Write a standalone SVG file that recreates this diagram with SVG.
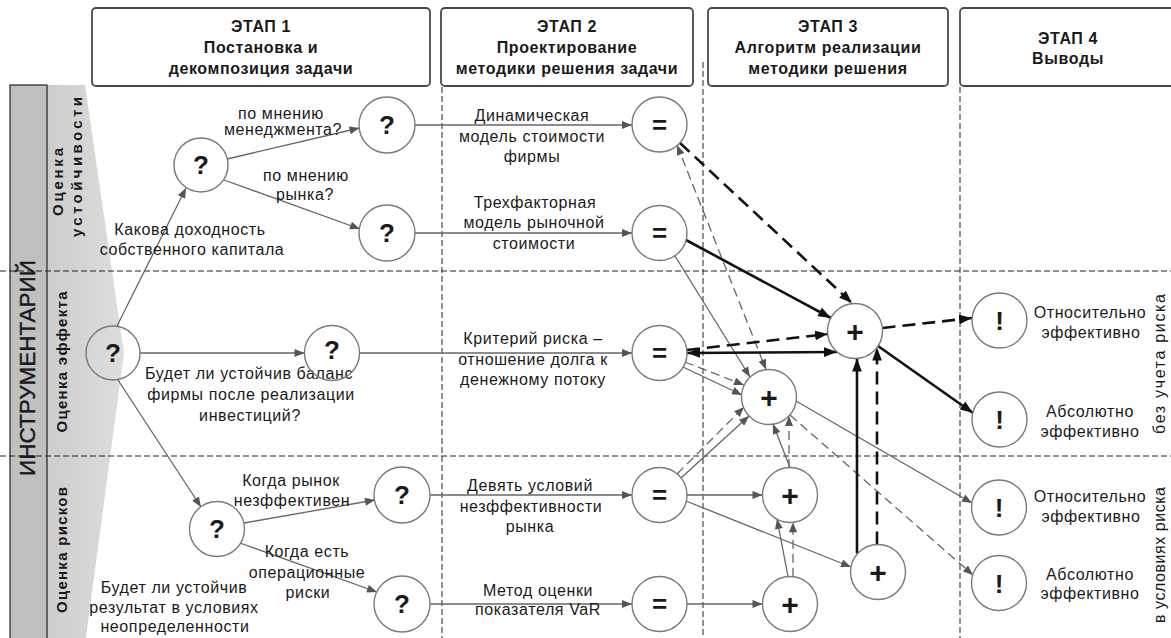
<svg xmlns="http://www.w3.org/2000/svg" width="1171" height="638" viewBox="0 0 1171 638">
<defs>
<style>
text{font-family:"Liberation Sans",Arial,sans-serif;fill:#1a1a1a}
.hdr{font-size:16px;font-weight:bold;letter-spacing:0.6px;text-anchor:middle}
.lbl{font-size:16px;letter-spacing:0.6px;text-anchor:middle}
.lane{font-size:15px;font-weight:bold;text-anchor:middle}
.side{font-size:16px;text-anchor:middle}
.box{fill:#fff;stroke:#4a4a4a;stroke-width:1.8}
.div{stroke:#222;stroke-width:1;stroke-dasharray:6 3;fill:none}
.node circle{fill:#fff;stroke:#7a7a7a;stroke-width:1.4}
.sym{font-size:26px;font-weight:bold;text-anchor:middle}
.plus{font-size:30px;font-weight:bold;text-anchor:middle}
.thin{stroke:#666;stroke-width:1.3;fill:none;marker-end:url(#ag)}
.thind{stroke:#666;stroke-width:1.3;fill:none;stroke-dasharray:9 5;marker-end:url(#ag)}
.heavy{stroke:#111;stroke-width:2.6;fill:none;marker-end:url(#ab)}
.heavyd{stroke:#111;stroke-width:2.6;fill:none;stroke-dasharray:13 7;marker-end:url(#ab)}
</style>
<marker id="ag" viewBox="0 0 10 8" refX="10" refY="4" markerWidth="11" markerHeight="8" markerUnits="userSpaceOnUse" orient="auto-start-reverse"><path d="M0,0 L10,4 L0,8 z" fill="#555"/></marker>
<marker id="ab" viewBox="0 0 12 9" refX="12" refY="4.5" markerWidth="13" markerHeight="10" markerUnits="userSpaceOnUse" orient="auto-start-reverse"><path d="M0,0 L12,4.5 L0,9 z" fill="#111"/></marker>
<linearGradient id="wg" x1="0" y1="0" x2="1" y2="0"><stop offset="0" stop-color="#cdcdcd"/><stop offset="1" stop-color="#dedede"/></linearGradient>
</defs>
<rect width="1171" height="638" fill="#fff"/>

<g id="sidebar">
<polygon points="47,85 85,85 124,353 85,645 47,645" fill="url(#wg)"/>
<rect x="10" y="85" width="37" height="560" fill="#c0c0c0" stroke="#222" stroke-width="1.2"/>
</g>

<g id="dividers">
<line class="div" x1="0" y1="271" x2="1171" y2="271"/>
<line class="div" x1="0" y1="456" x2="1171" y2="456"/>
<line class="div" x1="442" y1="87" x2="442" y2="638"/>
<line class="div" x1="703" y1="62" x2="703" y2="638"/>
<line class="div" x1="960" y1="87" x2="960" y2="638"/>
</g>

<g id="sidebar-text">
<text transform="translate(35,368) rotate(-90)" style="font-size:22.5px;text-anchor:middle;stroke:#1a1a1a;stroke-width:0.4">ИНСТРУМЕНТАРИЙ</text>
<text class="lane" transform="translate(63,182) rotate(-90)" textLength="68">Оценка</text>
<text class="lane" transform="translate(82,167) rotate(-90)" textLength="140">устойчивости</text>
<text class="lane" transform="translate(67,362) rotate(-90)" textLength="141">Оценка эффекта</text>
<text class="lane" transform="translate(67,550) rotate(-90)" textLength="126">Оценка рисков</text>
<text class="side" transform="translate(1165,364) rotate(-90)" textLength="140">без учета риска</text>
<text class="side" transform="translate(1165,555) rotate(-90)" textLength="136">в условиях риска</text>
</g>

<g id="stage1">
<rect class="box" x="92" y="8" width="338" height="78" rx="4"/>
<text class="hdr" x="261" y="32">ЭТАП 1</text>
<text class="hdr" x="261" y="53">Постановка и</text>
<text class="hdr" x="261" y="74">декомпозиция задачи</text>
</g>
<g id="stage2">
<rect class="box" x="441" y="8" width="252" height="78" rx="4"/>
<text class="hdr" x="567" y="32">ЭТАП 2</text>
<text class="hdr" x="567" y="53">Проектирование</text>
<text class="hdr" x="567" y="74">методики решения задачи</text>
</g>
<g id="stage3">
<rect class="box" x="708" y="8" width="240" height="78" rx="4"/>
<text class="hdr" x="828" y="32">ЭТАП 3</text>
<text class="hdr" x="828" y="53">Алгоритм реализации</text>
<text class="hdr" x="828" y="74">методики решения</text>
</g>
<g id="stage4">
<rect class="box" x="960" y="8" width="218" height="78" rx="4"/>
<text class="hdr" x="1068" y="44">ЭТАП 4</text>
<text class="hdr" x="1068" y="64">Выводы</text>
</g>

<g id="connectors">
<line class="thin" x1="117" y1="326" x2="186" y2="188"/>
<line class="thin" x1="118" y1="380" x2="201" y2="507"/>
<line class="thin" x1="140" y1="353" x2="304.5" y2="353"/>
<line class="thin" x1="227" y1="159" x2="359.5" y2="128"/>
<line class="thin" x1="224" y1="180" x2="360" y2="229"/>
<line class="thin" x1="415" y1="125" x2="632" y2="125"/>
<line class="thin" x1="415" y1="233" x2="632" y2="233"/>
<line class="thin" x1="359.5" y1="353" x2="632" y2="353"/>
<line class="thin" x1="244" y1="523" x2="375" y2="500"/>
<line class="thin" x1="240" y1="543" x2="377" y2="592"/>
<line class="thin" x1="430" y1="495" x2="632" y2="495"/>
<line class="thin" x1="430" y1="604" x2="632" y2="604"/>

<line class="heavyd" x1="680" y1="143" x2="852" y2="303"/>
<line class="thind" x1="677" y1="145" x2="766" y2="369.5" style="marker-start:url(#ag)"/>
<line class="heavy" x1="686" y1="240" x2="831" y2="318"/>
<line class="thin" x1="675" y1="256" x2="750" y2="377"/>
<line class="heavy" x1="687" y1="353" x2="837" y2="352" style="marker-start:url(#ab)"/>
<line class="heavyd" x1="687" y1="350" x2="828" y2="334"/>
<line class="thind" x1="685" y1="362" x2="744" y2="385"/>
<line class="thin" x1="683" y1="367" x2="742" y2="395"/>
<line class="thin" x1="681" y1="478" x2="749" y2="416"/>
<line class="thind" x1="677" y1="474" x2="744" y2="407"/>
<line class="thin" x1="687" y1="495" x2="762.5" y2="495"/>
<line class="thin" x1="686" y1="501" x2="851" y2="567"/>
<line class="thin" x1="687" y1="604" x2="762.5" y2="604"/>
<line class="thin" x1="788" y1="576.5" x2="777" y2="519"/>
<line class="thind" x1="793" y1="576.7" x2="793" y2="522.3"/>
<line class="thin" x1="790" y1="467.5" x2="773" y2="424"/>
<line class="thind" x1="789" y1="468" x2="789" y2="416"/>
<line class="thin" x1="796" y1="401" x2="972" y2="503"/>
<line class="thind" x1="790" y1="415" x2="973" y2="575"/>
<line class="heavy" x1="857" y1="553.5" x2="857" y2="358.5"/>
<line class="heavyd" x1="877" y1="544.5" x2="877" y2="347.5"/>
<line class="heavyd" x1="882.5" y1="328" x2="972" y2="318"/>
<line class="heavy" x1="878" y1="346" x2="973" y2="413"/>
</g>

<g id="edge-labels">
<text class="lbl" x="281" y="119">по мнению</text>
<text class="lbl" x="283" y="135">менеджмента?</text>
<text class="lbl" x="306" y="181">по мнению</text>
<text class="lbl" x="305" y="200">рынка?</text>
<text class="lbl" x="190" y="235">Какова доходность</text>
<text class="lbl" x="192" y="255">собственного капитала</text>
<text class="lbl" x="249" y="379">Будет ли устойчив баланс</text>
<text class="lbl" x="251" y="400">фирмы после реализации</text>
<text class="lbl" x="250" y="421">инвестиций?</text>
<text class="lbl" x="291" y="486">Когда рынок</text>
<text class="lbl" x="292" y="506">незффективен</text>
<text class="lbl" x="307" y="557">Когда есть</text>
<text class="lbl" x="307" y="578">операционные</text>
<text class="lbl" x="308" y="598">риски</text>
<text class="lbl" x="174" y="593">Будет ли устойчив</text>
<text class="lbl" x="174" y="613">результат в условиях</text>
<text class="lbl" x="175" y="632">неопределенности</text>
<text class="lbl" x="532" y="121">Динамическая</text>
<text class="lbl" x="532" y="142">модель стоимости</text>
<text class="lbl" x="532" y="162">фирмы</text>
<text class="lbl" x="535" y="208">Трехфакторная</text>
<text class="lbl" x="534" y="228">модель рыночной</text>
<text class="lbl" x="534" y="249">стоимости</text>
<text class="lbl" x="533" y="344">Критерий риска –</text>
<text class="lbl" x="533" y="365">отношение долга к</text>
<text class="lbl" x="533" y="385">денежному потоку</text>
<text class="lbl" x="530" y="491">Девять условий</text>
<text class="lbl" x="531" y="512">незффективности</text>
<text class="lbl" x="530" y="532">рынка</text>
<text class="lbl" x="538" y="596">Метод оценки</text>
<text class="lbl" x="538" y="615">показателя VaR</text>
</g>

<g id="n-root" class="node"><circle cx="113" cy="353" r="27" style="fill:none"/><text class="sym" x="113" y="362">?</text></g>
<g id="n-a" class="node"><circle cx="201" cy="165" r="27"/><text class="sym" x="201" y="174">?</text></g>
<g id="n-b" class="node"><circle cx="217" cy="529" r="27.5"/><text class="sym" x="217" y="538">?</text></g>
<g id="q1" class="node"><circle cx="387" cy="125" r="28"/><text class="sym" x="387" y="134">?</text></g>
<g id="q2" class="node"><circle cx="387" cy="233" r="28"/><text class="sym" x="387" y="242">?</text></g>
<g id="q3" class="node"><circle cx="332" cy="353" r="27.5" style="fill:none"/><text class="sym" x="332" y="359">?</text></g>
<g id="q4" class="node"><circle cx="402" cy="495" r="28"/><text class="sym" x="402" y="504">?</text></g>
<g id="q5" class="node"><circle cx="402" cy="604" r="28"/><text class="sym" x="402" y="613">?</text></g>

<g id="e1" class="node"><circle cx="659.5" cy="124.5" r="27.5"/><text class="sym" x="659.5" y="133.5">=</text></g>
<g id="e2" class="node"><circle cx="659.5" cy="233" r="27.5"/><text class="sym" x="659.5" y="242">=</text></g>
<g id="e3" class="node"><circle cx="659.5" cy="353" r="27.5"/><text class="sym" x="659.5" y="362">=</text></g>
<g id="e4" class="node"><circle cx="659.5" cy="495" r="27.5"/><text class="sym" x="659.5" y="504">=</text></g>
<g id="e5" class="node"><circle cx="659.5" cy="604" r="27.5"/><text class="sym" x="659.5" y="613">=</text></g>

<g id="p1" class="node"><circle cx="855" cy="331" r="27.5"/><text class="plus" x="855" y="341.5">+</text></g>
<g id="p2" class="node"><circle cx="769" cy="397" r="27.5"/><text class="plus" x="769" y="407.5">+</text></g>
<g id="p3" class="node"><circle cx="790" cy="495" r="27.5"/><text class="plus" x="790" y="505.5">+</text></g>
<g id="p4" class="node"><circle cx="790" cy="604" r="27.5"/><text class="plus" x="790" y="614.5">+</text></g>
<g id="p5" class="node"><circle cx="878" cy="572" r="27.5"/><text class="plus" x="878" y="582.5">+</text></g>

<g id="x1" class="node"><circle cx="999.5" cy="320.5" r="27.5"/><text class="sym" x="999.5" y="330">!</text>
<text class="lbl" x="1090" y="318">Относительно</text><text class="lbl" x="1091" y="338">эффективно</text></g>
<g id="x2" class="node"><circle cx="999.5" cy="419.5" r="27.5"/><text class="sym" x="999.5" y="429">!</text>
<text class="lbl" x="1090" y="417">Абсолютно</text><text class="lbl" x="1090" y="437">эффективно</text></g>
<g id="x3" class="node"><circle cx="999" cy="507.5" r="27.5"/><text class="sym" x="999" y="517">!</text>
<text class="lbl" x="1090" y="502">Относительно</text><text class="lbl" x="1091" y="522">эффективно</text></g>
<g id="x4" class="node"><circle cx="999" cy="583" r="27.5"/><text class="sym" x="999" y="592.5">!</text>
<text class="lbl" x="1090" y="580">Абсолютно</text><text class="lbl" x="1090" y="599">эффективно</text></g>
</svg>
